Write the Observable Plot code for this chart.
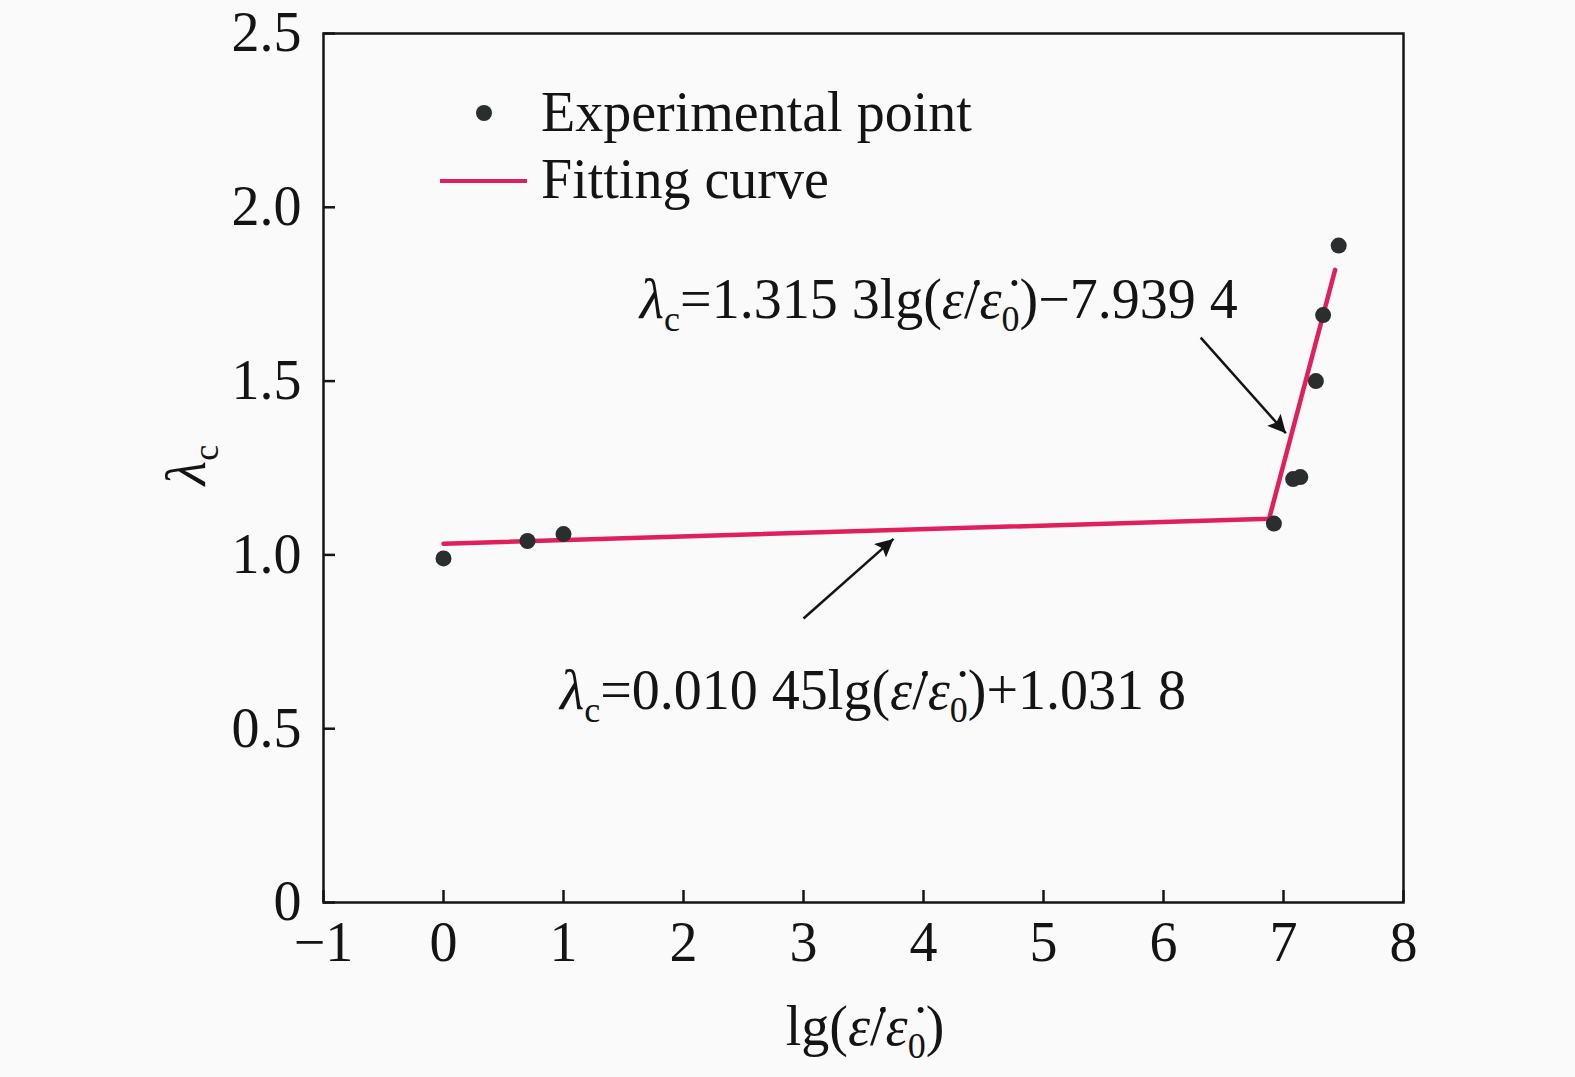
<!DOCTYPE html>
<html><head><meta charset="utf-8">
<script src="https://cdn.jsdelivr.net/npm/d3@7"></script>
<script src="https://cdn.jsdelivr.net/npm/@observablehq/plot@0.6"></script>
<style>
html,body{margin:0;padding:0;background:#fafafa;}
#chart{position:relative;width:1575px;height:1077px;}
</style></head><body>
<div id="chart"></div>
<script>
// ---- data ----
const xTicks = [-1, 0, 1, 2, 3, 4, 5, 6, 7, 8];
const yTicks = [0, 0.5, 1.0, 1.5, 2.0, 2.5];
const expX = [0, 0.70, 1.00, 6.92, 7.08, 7.14, 7.27, 7.33, 7.46];
const expY = [0.99, 1.04, 1.06, 1.09, 1.218, 1.224, 1.50, 1.69, 1.89];
const fitX = [0, 6.88, 7.43];
const fitY = [1.032, 1.104, 1.82];
// annotation arrows (data units)
const arrowFromX = [6.31, 3.00];
const arrowFromY = [1.625, 0.817];
const arrowToX = [7.02, 3.75];
const arrowToY = [1.35, 1.046];
// equation labels (data units, left-aligned baseline)
const eqX = [1.64, 0.975];
const eqY = [1.68, 0.556];
const eqParts = [
  [["λ","i"],["c","s"],["=1.315 3lg(",""],["ε\u0307","i"],["/",""],["ε\u0307","i"],["0","s"],[")−7.939 4",""]],
  [["λ","i"],["c","s"],["=0.010 45lg(",""],["ε\u0307","i"],["/",""],["ε\u0307","i"],["0","s"],[")+1.031 8",""]]
];
const legendLabels = ["Experimental point", "Fitting curve"];

const W = 1575, H = 1077, mL = 323, mR = 172, mT = 33, mB = 175;
const innerW = W - mL - mR, innerH = H - mT - mB;
const red = "#e0205c", ink = "#141414", dotFill = "#2a2e2e";
const FS = 56, SFS = 36, SDY = 13;

const pts = expX.map((x, i) => ({x, y: expY[i]}));
const fit = fitX.map((x, i) => ({x, y: fitY[i]}));
const arrows = arrowFromX.map((x, i) => ({x1: x, y1: arrowFromY[i], x2: arrowToX[i], y2: arrowToY[i]}));

const plot = Plot.plot({
  width: W, height: H,
  marginLeft: mL, marginRight: mR, marginTop: mT, marginBottom: mB,
  x: {domain: [-1, 8]},
  y: {domain: [0, 2.5]},
  style: {background: "#fafafa", fontFamily: "'Liberation Serif', 'Times New Roman', serif", fontSize: FS + "px", color: ink},
  marks: [
    Plot.axisX(xTicks, {tickSize: 0, tickPadding: 19, fontSize: FS,
      tickFormat: d => d < 0 ? "−" + (-d) : String(d)}),
    Plot.axisY(yTicks, {tickSize: 0, tickPadding: 22, fontSize: FS,
      tickFormat: d => d === 0 ? "0" : d.toFixed(1)}),
    Plot.ruleX(xTicks, {x: d => d, insetTop: innerH - 12, stroke: ink, strokeWidth: 2.5}),
    Plot.ruleY(yTicks, {y: d => d, insetRight: innerW - 12, stroke: ink, strokeWidth: 2.5}),
    Plot.line(fit, {x: "x", y: "y", stroke: red, strokeWidth: 4.5}),
    Plot.dot(pts, {x: "x", y: "y", r: 8, fill: dotFill, stroke: "none"}),
    Plot.link(arrows, {x1: "x1", y1: "y1", x2: "x2", y2: "y2", stroke: ink, strokeWidth: 2.5}),
    Plot.frame({stroke: ink, strokeWidth: 2.5})
  ]
});

document.getElementById("chart").appendChild(plot);
const svg = d3.select(plot);
const xs = plot.scale("x"), ys = plot.scale("y");

// arrowheads
const defs = svg.insert("defs", ":first-child");
defs.append("marker").attr("id", "ah").attr("viewBox", "0 0 10 10")
  .attr("refX", 10).attr("refY", 5).attr("markerWidth", 32).attr("markerHeight", 18)
  .attr("markerUnits", "userSpaceOnUse").attr("orient", "auto")
  .append("path").attr("d", "M0,0 L10,5 L0,10 L2,5 z").attr("fill", ink);
svg.selectAll('g[aria-label="link"] path').attr("marker-end", "url(#ah)");

function richText(parent, x, y, parts, anchor = "start") {
  const t = parent.append("text").attr("x", x).attr("y", y)
    .attr("font-family", "'Liberation Serif', 'Times New Roman', serif")
    .attr("font-size", FS).attr("fill", ink).attr("text-anchor", anchor);
  let shifted = false;
  for (const [s, k] of parts) {
    const sp = t.append("tspan").text(s);
    if (k === "i") sp.attr("font-style", "italic");
    if (k === "s") {
      sp.attr("font-size", SFS);
      if (!shifted) { sp.attr("dy", SDY); shifted = true; }
    } else if (shifted) { sp.attr("dy", -SDY); shifted = false; }
  }
  return t;
}

// equations
eqParts.forEach((parts, i) => richText(svg, xs.apply(eqX[i]), ys.apply(eqY[i]), parts));

// axis labels
richText(svg, 865, 1045, [["lg(",""],["ε\u0307","i"],["/",""],["ε\u0307","i"],["0","s"],[")",""]], "middle");
const gy = svg.append("g").attr("transform", "translate(205,465) rotate(-90)");
richText(gy, 0, 0, [["λ","i"],["c","s"]], "middle");

// legend
svg.append("circle").attr("cx", 484).attr("cy", 113).attr("r", 8).attr("fill", dotFill);
svg.append("line").attr("x1", 440).attr("x2", 527).attr("y1", 181).attr("y2", 181)
  .attr("stroke", red).attr("stroke-width", 4);
richText(svg, 541, 131, [[legendLabels[0], ""]]);
richText(svg, 541, 198, [[legendLabels[1], ""]]);
</script>
</body></html>
